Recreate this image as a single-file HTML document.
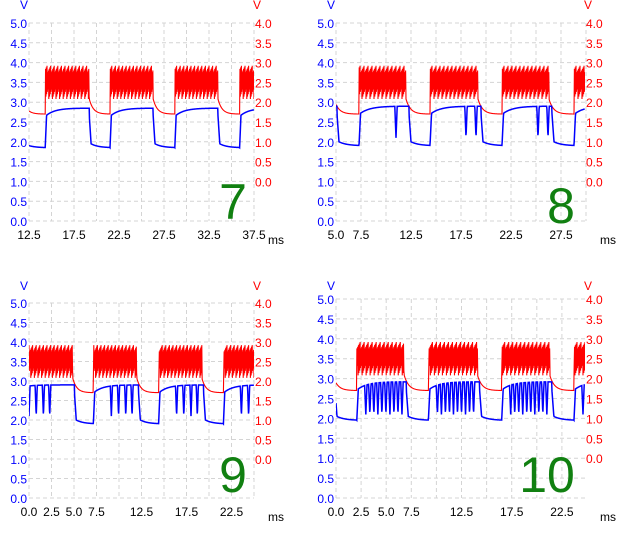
<!DOCTYPE html>
<html><head><meta charset="utf-8"><style>
html,body{margin:0;padding:0;background:#fff;}
svg{display:block;}
text{font-family:"Liberation Sans",sans-serif;font-size:12px;}
</style></head><body>
<svg id="c" width="618" height="547" viewBox="0 0 618 547"></svg>
<script>
// Panel data (time in ms, voltages in V)
const p1Bursts=[[6,11.8],[14.3,19.2],[21.5,26.3],[28.7,33.5],[35.9,42]];
const p2Bursts=[[0,4.8],[7.3,12.0],[14.4,19.2],[21.6,26.3],[28.8,34]];
const p3Bursts=[[-2,4.85],[7.15,11.97],[14.4,19.2],[21.6,27]];
const p4Bursts=[[-5,-0.3],[2.07,6.8],[9.2,14.1],[16.5,21.3],[23.7,29]];
const p1Dips=[];
const p2Dips=[11.0,18.0,19.0,25.2,26.2];
const p3DipOffsets=[2.0,2.8,3.6,4.3];
const p4DipOffsets=[0.9,1.3,1.7,2.1,2.5,2.9,3.3,3.7,4.1,4.5];
const p1XTicks=["12.5","17.5","22.5","27.5","32.5","37.5"];
const p2XTicks=["5.0","7.5","12.5","17.5","22.5","27.5"];
const p3XTicks=["0.0","2.5","5.0","7.5","12.5","17.5","22.5"];
const p4XTicks=["0.0","2.5","5.0","7.5","12.5","17.5","22.5"];
const blueTicks=["0.0","0.5","1.0","1.5","2.0","2.5","3.0","3.5","4.0","4.5","5.0"];
const redTicks=["0.0","0.5","1.0","1.5","2.0","2.5","3.0","3.5","4.0"];
const panelLabels=["7","8","9","10"];
const blueLevels=[[1.85,2.85],[1.9,2.9],[1.9,2.9],[1.95,2.92]];
const redIdle=1.7, redLow=2.08, redHigh=2.92;

const NS="http://www.w3.org/2000/svg";
const svg=document.getElementById('c');
function mk(tag,attrs,parent){const e=document.createElementNS(NS,tag);for(const k in attrs)e.setAttribute(k,attrs[k]);(parent||svg).appendChild(e);return e;}

const panels=[
 {x0:29,x1:254,yTop:23,yBot:221,t0:12.5,t1:37.5,bursts:p1Bursts,dips:p1Dips,offs:null,ticks:p1XTicks,lvl:blueLevels[0],fallDelay:0,label:panelLabels[0],lx:233,ly:219,msx:268,msy:244,vy:9},
 {x0:336,x1:585,yTop:23,yBot:221,t0:5.0,t1:29.9,bursts:p2Bursts,dips:p2Dips,offs:null,ticks:p2XTicks,lvl:blueLevels[1],fallDelay:0.3,label:panelLabels[1],lx:561,ly:223,msx:600,msy:244,vy:9},
 {x0:29,x1:254,yTop:303,yBot:498,t0:0,t1:25,bursts:p3Bursts,dips:null,offs:p3DipOffsets,ticks:p3XTicks,lvl:blueLevels[2],fallDelay:0.2,label:panelLabels[2],lx:233,ly:492,msx:268,msy:521,vy:290},
 {x0:336,x1:585,yTop:299,yBot:498,t0:0,t1:24.8,bursts:p4Bursts,dips:null,offs:p4DipOffsets,ticks:p4XTicks,lvl:blueLevels[3],fallDelay:0.2,label:panelLabels[3],lx:547,ly:492,msx:600,msy:521,vy:290}
];

panels.forEach((p,pi)=>{
  const g=mk('g',{});
  
  
  const xs=t=>p.x0+(t-p.t0)/(p.t1-p.t0)*(p.x1-p.x0);
  const ys=v=>p.yBot-v/5*(p.yBot-p.yTop);
  const yr=v=>ys(v+1);
  const pxPerMs=(p.x1-p.x0)/(p.t1-p.t0);
  for(let i=0;i<=10;i++){
    const y=p.yBot-i*(p.yBot-p.yTop)/10;
    mk('line',{x1:p.x0,x2:p.x1,y1:y,y2:y,stroke:'#d4d4d4','stroke-dasharray':'4,3'},g);
  }
  const step=2.5*pxPerMs;
  for(let x=p.x0;x<=p.x1+1;x+=step){
    mk('line',{x1:x,x2:x,y1:p.yTop,y2:p.yBot,stroke:'#d4d4d4','stroke-dasharray':'4,3'},g);
  }
  blueTicks.forEach(s=>{const t=mk('text',{x:p.x0-2,y:ys(parseFloat(s))+5,'text-anchor':'end',fill:'#0000ff'},g);t.textContent=s;
    });
  redTicks.forEach(s=>{const t=mk('text',{x:p.x1+1,y:yr(parseFloat(s))+5,fill:'#ff0000'},g);t.textContent=s;
    });
  p.ticks.forEach(s=>{const t=mk('text',{x:xs(parseFloat(s)),y:p.yBot+18,'text-anchor':'middle',fill:'#000'},g);t.textContent=s;
    });
  let t;
  t=mk('text',{x:p.x0-5,y:p.vy,'text-anchor':'middle',fill:'#0000ff'},g);t.textContent='V';
  
  t=mk('text',{x:p.x1+3,y:p.vy,'text-anchor':'middle',fill:'#ff0000'},g);t.textContent='V';
  
  t=mk('text',{x:p.msx,y:p.msy,fill:'#000'},g);t.textContent='ms';
  

  let dips=[];
  if(p.dips) dips=p.dips.slice();
  if(p.offs) p.bursts.forEach(b=>p.offs.forEach(o=>dips.push(b[0]+o)));
  const [lo,hi]=p.lvl;
  function blue(tm){
    for(const b of p.bursts){
      const e=b[1]+p.fallDelay;
      if(tm>=b[0]&&tm<e){
        let v;
        const d=tm-b[0];
        if(d<0.15) v=lo+(hi-0.2-lo)*d/0.15; else v=hi-0.18*Math.exp(-(d-0.15)/1.0);
        for(const dp of dips){const dd=Math.abs(tm-dp);if(dd<0.12) v=Math.min(v,2.1+(v-2.1)*dd/0.12);}
        return v;
      }
    }
    let last=null;for(const b of p.bursts){if(b[1]+p.fallDelay<=tm)last=b;}
    if(last){const d=tm-(last[1]+p.fallDelay);
      if(d<0.2) return hi-0.2-(hi-0.2-lo-0.1)*d/0.2;
      return lo+0.1*Math.exp(-(d-0.2)/0.8);}
    return lo;
  }
  function red(tm,k){
    for(const b of p.bursts){
      if(tm>=b[0]&&tm<b[1]){
        return (k%2===0)?(redHigh-((k*7)%5)*0.04):(redLow+((k*3)%5)*0.06);
      }
    }
    let last=null;for(const b of p.bursts){if(b[1]<=tm)last=b;}
    if(last){const d=tm-last[1];return redIdle+(redLow-redIdle)*Math.exp(-d/0.45);}
    return redIdle;
  }
  const cid='clip'+pi;
  const cp=mk('clipPath',{id:cid},g);mk('rect',{x:p.x0,y:p.yTop-5,width:p.x1-p.x0,height:p.yBot-p.yTop+10},cp);
  let rp=[];const dt=0.04;let k=0;
  for(let tm=p.t0;tm<=p.t1;tm+=dt,k++){
    const x=xs(tm);rp.push(x.toFixed(2)+','+yr(red(tm,k)).toFixed(2));
  }
  const rl=mk('polyline',{points:rp.join(' '),fill:'none',stroke:'#ff0000','stroke-width':1.1,'clip-path':'url(#'+cid+')'},g);
  
  let bp=[];
  for(let tm=p.t0;tm<=p.t1;tm+=0.03){bp.push(xs(tm).toFixed(2)+','+ys(blue(tm)).toFixed(2));}
  const bl=mk('polyline',{points:bp.join(' '),fill:'none',stroke:'#0000ff','stroke-width':1.5,'clip-path':'url(#'+cid+')'},g);
  
  t=mk('text',{x:p.lx,y:p.ly,'text-anchor':'middle',fill:'#118011','style':'font-size:50px'},g);t.textContent=p.label;
  
});
</script>
</body></html>
